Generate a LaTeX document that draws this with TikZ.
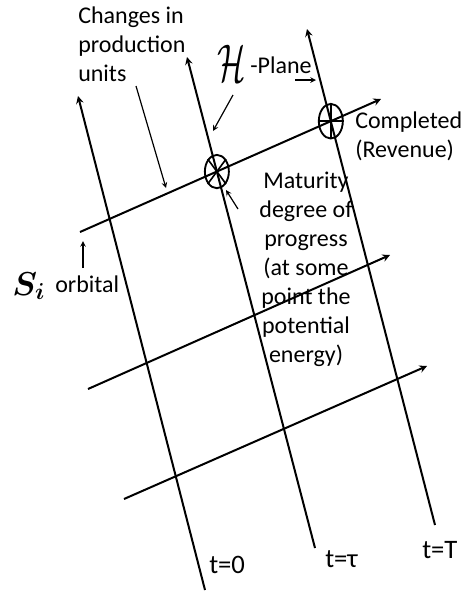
\documentclass[tikz,border=0pt]{standalone}
\usepackage{fontspec}
\setmainfont{Carlito}
\usepackage{bm}
\usepackage{graphicx}
\usetikzlibrary{shapes, arrows, positioning}

\begin{document}
\begin{tikzpicture}[x=0.75pt, y=-0.75pt, >=stealth,
    axis/.style={->, line width=1.5pt},
    pointer/.style={->, line width=0.9pt},
    lbl/.style={font=\fontsize{18}{21.75}\selectfont, inner sep=0pt, align=left},
    tlbl/.style={font=\fontsize{20}{24}\selectfont, inner sep=0pt},
    hub/.style={draw, ellipse, line width=1.4pt, inner sep=0pt, minimum width=18pt, minimum height=25pt}]
    \useasboundingbox (0,0) rectangle (461,594);

    \coordinate (t0a) at (78,96);  \coordinate (t0b) at (205,590);
    \coordinate (tma) at (187,57); \coordinate (tmb) at (315,548);
    \coordinate (tTa) at (307,29); \coordinate (tTb) at (435,525);
    \coordinate (sAa) at (80,232);  \coordinate (sAb) at (381,99);
    \coordinate (sBa) at (88,389);  \coordinate (sBb) at (390,255);
    \coordinate (sCa) at (124,499); \coordinate (sCb) at (427,366);

    \draw[axis] (t0b) -- (t0a);
    \draw[axis] (tmb) -- (tma);
    \draw[axis] (tTb) -- (tTa);
    \draw[axis] (sAa) -- (sAb);
    \draw[axis] (sBa) -- (sBb);
    \draw[axis] (sCa) -- (sCb);

    \node (hubM) [hub] at (intersection of tma--tmb and sAa--sAb) {};
    \node (hubT) [hub, minimum height=26pt] at (intersection of tTa--tTb and sAa--sAb) {};
    \draw[line width=1.2pt] (hubM.north west) -- (hubM.south east) (hubM.north east) -- (hubM.south west);
    \draw[line width=1.2pt] (hubT.west) -- (hubT.east) (hubT.north) -- (hubT.south);

    \node (chg) [lbl, anchor=base west] at (78,81) {Changes in\\production\\units};
    \node (hcal) [inner sep=0pt, anchor=base] at (232,81) {\fontsize{26}{30}\selectfont\scalebox{1}[1.6]{$\mathcal{H}$}};
    \node (plane) [lbl, anchor=base west] at (250,73) {-Plane};
    \node (done) [lbl, anchor=base west] at (355,157) {Completed\\(Revenue)};
    \node (matur) [lbl, align=center, anchor=base] at (306,362) {Maturity\\degree of\\progress\\(at some\\point the\\potential\\energy)};
    \node (si) [inner sep=0pt, anchor=base west] at (12,295) {\fontsize{24}{28}\selectfont$\bm{S_i}$};
    \node (orb) [lbl, anchor=base west] at (55,292) {orbital};
    \node (lt0) [tlbl, anchor=base west] at (209,573) {t=0};
    \node (ltm) [tlbl, anchor=base west] at (325,567) {t=τ};
    \node (ltT) [tlbl, anchor=base west] at (422,558) {t=T};

    \coordinate (chgtail) at (136,86);  \coordinate (chghead) at (166,188);
    \coordinate (htail) at (233,95);    \coordinate (hhead) at (213,131);
    \coordinate (ptail) at (295,80);    \coordinate (phead) at (316,80);
    \coordinate (mtail) at (238,209);   \coordinate (mhead) at (226,190);
    \coordinate (stail) at (83,268);    \coordinate (shead) at (83,241);
    \draw[pointer] (chgtail) -- (chghead);
    \draw[pointer] (htail) -- (hhead);
    \draw[pointer] (ptail) -- (phead);
    \draw[pointer] (mtail) -- (mhead);
    \draw[pointer] (stail) -- (shead);
\end{tikzpicture}
\end{document}
